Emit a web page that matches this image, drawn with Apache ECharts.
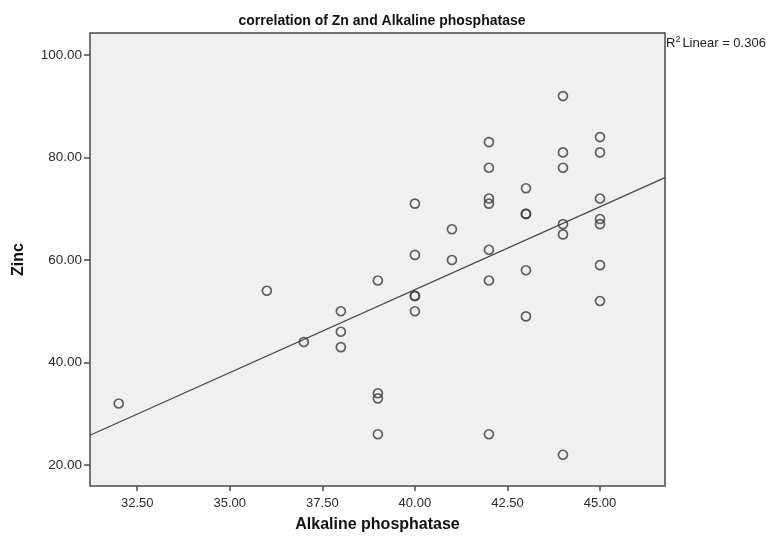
<!DOCTYPE html>
<html>
<head>
<meta charset="utf-8">
<script src="https://cdn.jsdelivr.net/npm/echarts@6/dist/echarts.min.js"></script>
<style>
html,body{margin:0;padding:0;background:#fff;}
#c{width:773px;height:540px;}
</style>
</head>
<body>
<div id="c"></div>
<script>
// Alkaline phosphatase (x) and Zinc (y) observations
const alkPhos = [32, 36, 37, 38, 38, 38, 39, 39, 39, 39, 40, 40, 40, 40, 40, 41, 41,
  42, 42, 42, 42, 42, 42, 42, 43, 43, 43, 43, 43, 44, 44, 44, 44, 44, 44,
  45, 45, 45, 45, 45, 45, 45];
const zinc = [32, 54, 44, 50, 46, 43, 56, 34, 33, 26, 71, 61, 53, 53, 50, 66, 60,
  83, 78, 72, 71, 62, 56, 26, 74, 69, 69, 58, 49, 92, 81, 78, 67, 65, 22,
  84, 81, 72, 68, 67, 59, 52];
const xTicks = [32.5, 35, 37.5, 40, 42.5, 45];
const yTicks = [20, 40, 60, 80, 100];
const xRange = [31.224, 46.756];
const yRange = [15.9, 104.3];

// least-squares fit
const n = alkPhos.length;
let sx = 0, sy = 0, sxx = 0, sxy = 0, syy = 0;
for (let i = 0; i < n; i++) {
  const x = alkPhos[i], y = zinc[i];
  sx += x; sy += y; sxx += x * x; sxy += x * y; syy += y * y;
}
const Sxx = sxx - sx * sx / n, Sxy = sxy - sx * sy / n, Syy = syy - sy * sy / n;
const slope = Sxy / Sxx;
const intercept = sy / n - slope * sx / n;
const r2 = Sxy * Sxy / (Sxx * Syy);
const fitLine = xRange.map(x => [x, intercept + slope * x]);

const pts = alkPhos.map((x, i) => [x, zinc[i]]);
const font = '"Liberation Sans", Arial, sans-serif';

const chart = echarts.init(document.getElementById('c'), null, {renderer: 'canvas'});
chart.setOption({
  animation: false,
  backgroundColor: '#ffffff',
  title: {
    text: 'correlation of Zn and Alkaline phosphatase',
    left: 377, top: 9, textAlign: 'center',
    textStyle: {fontFamily: font, fontSize: 14, fontWeight: 'bold', color: '#111'}
  },
  graphic: [{
    type: 'text', left: 666, top: 35,
    style: {
      rich: {
        a: {fontFamily: font, fontSize: 13, fill: '#222'},
        s: {fontFamily: font, fontSize: 9, fill: '#222', verticalAlign: 'top', padding: [0, 2, 7, 0]}
      },
      text: '{a|R}{s|2}{a|Linear = ' + r2.toFixed(3) + '}'
    }
  }],
  grid: {
    left: 90, right: 108, top: 33, bottom: 54,
    show: true, backgroundColor: '#f0f0f0', borderColor: '#4a4a4a', borderWidth: 1.5
  },
  xAxis: {
    type: 'value', min: xRange[0], max: xRange[1],
    name: 'Alkaline phosphatase', nameLocation: 'middle', nameGap: 31,
    nameTextStyle: {fontFamily: font, fontSize: 16, fontWeight: 'bold', color: '#111'},
    splitLine: {show: false},
    axisLine: {show: false},
    axisTick: {show: true, length: 5, customValues: xTicks, lineStyle: {color: '#4a4a4a', width: 1.5}},
    axisLabel: {customValues: xTicks, margin: 11, fontFamily: font, fontSize: 13, color: '#2a2a2a',
      formatter: v => v.toFixed(2)}
  },
  yAxis: {
    type: 'value', min: yRange[0], max: yRange[1],
    name: 'Zinc', nameLocation: 'middle', nameGap: 63, nameRotate: 90,
    nameTextStyle: {fontFamily: font, fontSize: 16, fontWeight: 'bold', color: '#111'},
    splitLine: {show: false},
    axisLine: {show: false},
    axisTick: {show: true, length: 6, customValues: yTicks, lineStyle: {color: '#4a4a4a', width: 1.5}},
    axisLabel: {customValues: yTicks, margin: 8, fontFamily: font, fontSize: 13.5, color: '#2a2a2a',
      formatter: v => v.toFixed(2)}
  },
  series: [{
    type: 'line', data: fitLine, symbol: 'none', silent: true, clip: true,
    lineStyle: {color: '#444', width: 1.2}, z: 1
  }, {
    type: 'scatter', data: pts, symbol: 'circle', symbolSize: 9,
    itemStyle: {color: 'rgba(0,0,0,0)', borderColor: '#3a3a3a', borderWidth: 1.7}, z: 2
  }]
});
</script>
</body>
</html>
